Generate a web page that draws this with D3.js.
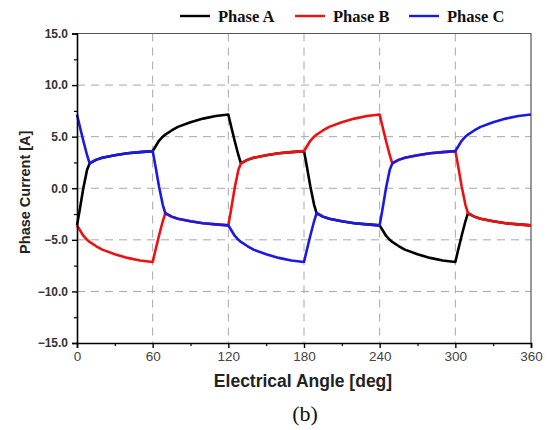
<!DOCTYPE html>
<html lang="en">
<head>
<meta charset="UTF-8" />
<title>Phase Current</title>
<script src="https://cdn.jsdelivr.net/npm/d3@7"></script>
<style>
  body { margin: 0; background: #fff; }
  svg { display: block; }
</style>
</head>
<body>
<script>
  // electrical angle samples (deg)
  var angles = [0,2,5,8,10,15,20,30,40,50, 60,62,65,68,70,75,80,90,100,110,
                120,122,125,128,130,135,140,150,160,170, 180,182,185,188,190,195,200,210,220,230,
                240,242,245,248,250,255,260,270,280,290, 300,302,305,308,310,315,320,330,340,350, 360];

  var phaseA = [-3.6,-2.2,0.0,1.8,2.4,2.75,2.95,3.2,3.4,3.5,
                3.6,4.0,4.6,5.0,5.2,5.6,5.95,6.4,6.75,7.0,
                7.15,6.1,4.6,3.2,2.4,2.75,2.95,3.2,3.4,3.5,
                3.6,2.3,0.2,-1.6,-2.4,-2.75,-2.95,-3.2,-3.4,-3.5,
                -3.6,-4.0,-4.6,-5.0,-5.2,-5.6,-5.95,-6.4,-6.75,-7.0,
                -7.15,-6.1,-4.6,-3.2,-2.4,-2.75,-2.95,-3.2,-3.4,-3.5, -3.6];

  var phaseB = [-3.6,-4.0,-4.6,-5.0,-5.2,-5.6,-5.95,-6.4,-6.75,-7.0,
                -7.15,-6.1,-4.6,-3.2,-2.4,-2.75,-2.95,-3.2,-3.4,-3.5,
                -3.6,-2.2,0.0,1.8,2.4,2.75,2.95,3.2,3.4,3.5,
                3.6,4.0,4.6,5.0,5.2,5.6,5.95,6.4,6.75,7.0,
                7.15,6.1,4.6,3.2,2.4,2.75,2.95,3.2,3.4,3.5,
                3.6,2.3,0.2,-1.6,-2.4,-2.75,-2.95,-3.2,-3.4,-3.5, -3.6];

  var phaseC = [7.15,6.1,4.6,3.2,2.4,2.75,2.95,3.2,3.4,3.5,
                3.6,2.3,0.2,-1.6,-2.4,-2.75,-2.95,-3.2,-3.4,-3.5,
                -3.6,-4.0,-4.6,-5.0,-5.2,-5.6,-5.95,-6.4,-6.75,-7.0,
                -7.15,-6.1,-4.6,-3.2,-2.4,-2.75,-2.95,-3.2,-3.4,-3.5,
                -3.6,-2.2,0.0,1.8,2.4,2.75,2.95,3.2,3.4,3.5,
                3.6,4.0,4.6,5.0,5.2,5.6,5.95,6.4,6.75,7.0, 7.15];

  var seriesNames = ["Phase A", "Phase B", "Phase C"];
  var seriesColors = ["#000000", "#ee1111", "#1a1ae0"];
  var xTicks = [0,60,120,180,240,300,360];
  var yTicks = [-15,-10,-5,0,5,10,15];

  var W = 547, H = 430;
  var margin = {top: 33.5, right: 16, bottom: 87, left: 77};
  var iw = W - margin.left - margin.right;
  var ih = H - margin.top - margin.bottom;

  var svg = d3.select("body").append("svg").attr("width", W).attr("height", H);
  var g = svg.append("g").attr("transform", "translate(" + margin.left + "," + margin.top + ")");

  var x = d3.scaleLinear().domain([0, 360]).range([0, iw]);
  var y = d3.scaleLinear().domain([-15, 15]).range([ih, 0]);

  // dashed grid
  g.selectAll(".vgrid").data(xTicks.slice(1, -1)).enter().append("line")
    .attr("x1", function(d){ return x(d); }).attr("x2", function(d){ return x(d); })
    .attr("y1", 0).attr("y2", ih)
    .attr("stroke", "#a8a8a8").attr("stroke-width", 1).attr("stroke-dasharray", "8,6");
  g.selectAll(".hgrid").data(yTicks.slice(1, -1)).enter().append("line")
    .attr("y1", function(d){ return y(d); }).attr("y2", function(d){ return y(d); })
    .attr("x1", 0).attr("x2", iw)
    .attr("stroke", "#a8a8a8").attr("stroke-width", 1).attr("stroke-dasharray", "8,6");

  // frame top / right
  g.append("path").attr("d", "M0,0H" + iw + "V" + ih)
    .attr("fill", "none").attr("stroke", "#555").attr("stroke-width", 1.2);

  // curves, A under B under C
  var line = d3.line()
    .x(function(d){ return x(d[0]); })
    .y(function(d){ return y(d[1]); });
  [phaseA, phaseB, phaseC].forEach(function(vals, k) {
    g.append("path")
      .datum(angles.map(function(a, i){ return [a, vals[i]]; }))
      .attr("d", line)
      .attr("fill", "none")
      .attr("stroke", seriesColors[k])
      .attr("stroke-width", 2.6)
      .attr("stroke-linejoin", "round");
  });

  // axes
  var xAxis = d3.axisBottom(x).tickValues(xTicks).tickSize(5).tickPadding(3);
  var gx = g.append("g").attr("transform", "translate(0," + ih + ")").call(xAxis);
  gx.select(".domain").attr("stroke", "#000").attr("stroke-width", 1.6);
  gx.selectAll(".tick line").attr("stroke", "#000").attr("stroke-width", 1.4);
  gx.selectAll("text").attr("font-family", "Arial, 'Liberation Sans', sans-serif")
    .attr("font-size", 13.5).attr("fill", "#444");
  g.append("g").attr("transform", "translate(0," + ih + ")")
    .call(d3.axisBottom(x).tickValues(d3.range(30, 360, 60)).tickSize(3).tickFormat(""))
    .call(function(s){ s.select(".domain").remove(); s.selectAll("line").attr("stroke", "#000").attr("stroke-width", 1.2); });

  var yAxis = d3.axisLeft(y).tickValues(yTicks).tickSize(5).tickPadding(4).tickFormat(d3.format(".1f"));
  var gy = g.append("g").call(yAxis);
  gy.select(".domain").attr("stroke", "#000").attr("stroke-width", 1.6);
  gy.selectAll(".tick line").attr("stroke", "#000").attr("stroke-width", 1.4);
  gy.selectAll("text").attr("font-family", "Arial, 'Liberation Sans', sans-serif")
    .attr("font-size", 12).attr("font-weight", "bold").attr("fill", "#333");
  g.append("g")
    .call(d3.axisLeft(y).tickValues([-12.5,-7.5,-2.5,2.5,7.5,12.5]).tickSize(3).tickFormat(""))
    .call(function(s){ s.select(".domain").remove(); s.selectAll("line").attr("stroke", "#000").attr("stroke-width", 1.2); });

  // axis titles
  svg.append("text").attr("x", margin.left + iw / 2 - 1).attr("y", 387)
    .attr("text-anchor", "middle")
    .attr("font-family", "Arial, 'Liberation Sans', sans-serif")
    .attr("font-size", 17.5).attr("font-weight", "bold").attr("fill", "#222")
    .text("Electrical Angle [deg]");
  svg.append("text").attr("transform", "translate(30," + (margin.top + ih / 2 + 4) + ") rotate(-90)")
    .attr("text-anchor", "middle")
    .attr("font-family", "Arial, 'Liberation Sans', sans-serif")
    .attr("font-size", 14.5).attr("font-weight", "bold").attr("fill", "#222")
    .text("Phase Current [A]");

  svg.append("text").attr("x", 305).attr("y", 421)
    .attr("text-anchor", "middle")
    .attr("font-family", "'Times New Roman', 'Liberation Serif', serif")
    .attr("font-size", 22).attr("fill", "#111")
    .text("(b)");

  // legend
  var legX = [180, 295, 409];
  var leg = svg.selectAll(".leg").data(seriesNames).enter().append("g")
    .attr("transform", function(d, i){ return "translate(" + legX[i] + ",16)"; });
  leg.append("line").attr("x1", 0).attr("x2", 30).attr("y1", 0).attr("y2", 0)
    .attr("stroke", function(d, i){ return seriesColors[i]; }).attr("stroke-width", 2.4);
  leg.append("text").attr("x", 38).attr("y", 5.5)
    .attr("font-family", "'Times New Roman', 'Liberation Serif', serif")
    .attr("font-size", 16.5).attr("font-weight", "bold").attr("fill", "#111")
    .text(function(d){ return d; });
</script>
</body>
</html>
